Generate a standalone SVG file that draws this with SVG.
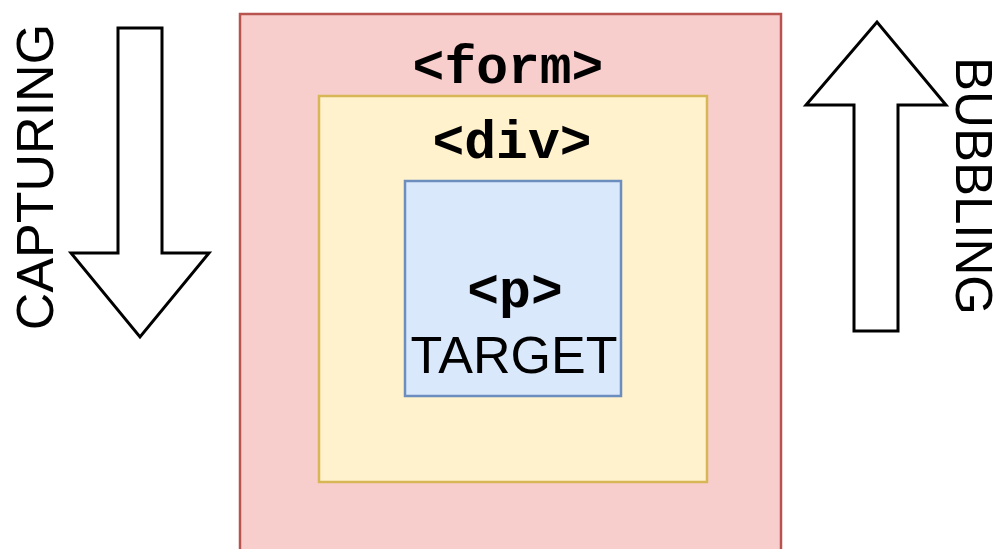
<svg xmlns="http://www.w3.org/2000/svg" width="1000" height="549" viewBox="0 0 1000 549">
<style>
.mono{font-family:"Liberation Mono","Courier New",monospace;font-weight:bold;font-size:53px;fill:#000;text-anchor:middle}
.sans{font-family:"Liberation Sans",Arial,sans-serif;font-size:52px;fill:#000;text-anchor:middle}
.arrow{fill:#fff;stroke:#000;stroke-width:3;stroke-linejoin:miter}
</style>
<rect width="1000" height="549" fill="#fff"/>
<g id="form">
<rect x="240" y="14" width="541" height="560" fill="#f8cecc" stroke="#b85450" stroke-width="2.5"/>
<text class="mono" x="508" y="83">&lt;form&gt;</text>
</g>
<g id="div">
<rect x="319" y="96" width="388" height="386" fill="#fff2cc" stroke="#d6b656" stroke-width="2.5"/>
<text class="mono" x="512" y="158">&lt;div&gt;</text>
</g>
<g id="p">
<rect x="405" y="181" width="216" height="215" fill="#dae8fc" stroke="#6c8ebf" stroke-width="2.5"/>
<text class="mono" x="515" y="307">&lt;p&gt;</text>
<text class="sans" x="514" y="373">TARGET</text>
</g>
<g id="connectors">
<g id="capturing">
<path class="arrow" d="M118,28 H162 V253 H209 L140,337 L71,253 H118 Z"/>
<text class="sans" transform="translate(53,177) rotate(-90)" x="0" y="0">CAPTURING</text>
</g>
<g id="bubbling">
<path class="arrow" d="M854,331 V105 H806 L877,22 L946,105 H898 V331 Z"/>
<text class="sans" style="font-size:51px" transform="translate(956,186) rotate(90)" x="0" y="0">BUBBLING</text>
</g>
</g>
</svg>
